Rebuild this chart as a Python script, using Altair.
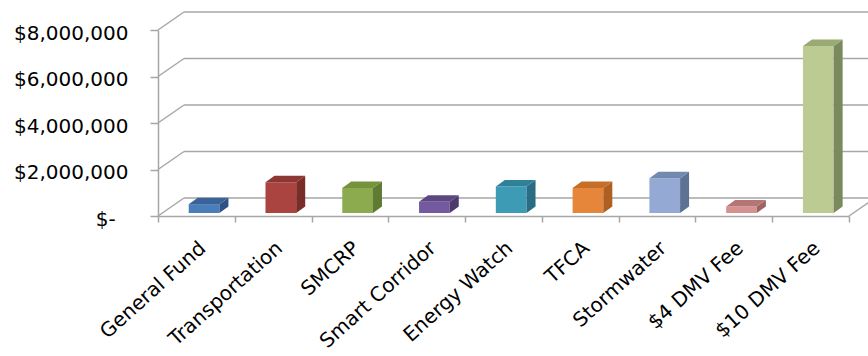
import altair as alt
import pandas as pd

# ---- data ----
categories = ["General Fund", "Transportation", "SMCRP", "Smart Corridor",
              "Energy Watch", "TFCA", "Stormwater", "$4 DMV Fee", "$10 DMV Fee"]
values = [380000, 1320000, 1080000, 480000, 1140000, 1080000, 1500000, 280000, 7180000]
y_ticks = [0, 2000000, 4000000, 6000000, 8000000]

# ---- styles ----
front_colors = ["#4A7EBB", "#AA4441", "#8CAB4E", "#7559A0", "#3D9BB5",
                "#E5863A", "#94AAD4", "#D69291", "#BBCB92"]
top_colors = ["#3A6399", "#8E3633", "#76923C", "#5D4782", "#2F8099",
              "#C66E28", "#7389B0", "#B57574", "#99AA72"]
side_colors = ["#2E5285", "#7A2C29", "#5F7A32", "#4D3B6C", "#296D82",
               "#AE5F22", "#5E7296", "#9C6362", "#7A8A5C"]
GRID = "#A6A6A6"
FONT = "DejaVu Sans"

W, H = 691, 186
Y_MAX = 8000000
N = len(categories)
PXY = Y_MAX / H          # data units per pixel (y)
PXX = N / W              # category units per pixel (x)
DEPTH_DX, DEPTH_DY = 26, 18
BAR_L, BAR_R = 0.40, 0.80
BAR_DX, BAR_DY = 9, 6.5
LIFT = 3

base = pd.DataFrame({"cat": categories, "value": values, "idx": list(range(N))})
grid = pd.DataFrame({"v": y_ticks})

# faces built from the values
front_rows, side_rows, top_rows = [], [], []
for c, v, i in zip(categories, values, range(N)):
    x0, x1 = i + BAR_L, i + BAR_R
    lo, hi = LIFT * PXY, v + LIFT * PXY
    ddx, ddy = BAR_DX * PXX, BAR_DY * PXY
    front_rows.append({"cat": c, "x0": x0, "x1": x1, "lo": lo, "hi": hi})
    side_rows += [{"cat": c, "x": x1, "lo": lo, "hi": hi},
                  {"cat": c, "x": x1 + ddx, "lo": lo + ddy, "hi": hi + ddy}]
    top_rows += [{"cat": c, "x": x0, "lo": hi, "hi": hi},
                 {"cat": c, "x": x0 + ddx, "lo": hi, "hi": hi + ddy},
                 {"cat": c, "x": x1, "lo": hi, "hi": hi + ddy},
                 {"cat": c, "x": x1 + ddx, "lo": hi + ddy, "hi": hi + ddy}]
front_df = pd.DataFrame(front_rows)
side_df = pd.DataFrame(side_rows)
top_df = pd.DataFrame(top_rows)

yscale = alt.Scale(domain=[0, Y_MAX], nice=False, zero=True)
xq = alt.Scale(domain=[0, N], nice=False, zero=False)

y_axis = alt.Axis(
    values=y_ticks,
    labelExpr="datum.value == 0 ? '$-\u00a0\u00a0\u200b' : '$' + format(datum.value, ',')",
    grid=False, domainColor=GRID, domainWidth=1.5, tickColor=GRID, tickWidth=1.5,
    tickSize=8, labelPadding=22, labelFont=FONT, labelFontSize=20,
    labelColor="#000000", labelOffset=3, title=None)

axis_layer = alt.Chart(base).mark_bar(opacity=0).encode(
    x=alt.X("cat:N", sort=categories,
            scale=alt.Scale(paddingInner=0, paddingOuter=0),
            axis=alt.Axis(tickBand="extent", labelAngle=-42, labelAlign="right",
                          labelBaseline="middle", labelPadding=23, labelOffset=6,
                          labelFont=FONT, labelFontSize=20, labelColor="#000000",
                          tickSize=6, tickColor=GRID, tickWidth=1.5,
                          domainColor=GRID, domainWidth=1.5, title=None)),
    y=alt.Y("value:Q", scale=yscale, axis=y_axis),
)

back_grid = alt.Chart(grid).mark_rule(color=GRID, strokeWidth=1.5, yOffset=-DEPTH_DY).encode(
    y=alt.Y("v:Q", scale=yscale, axis=None),
    x=alt.value(DEPTH_DX), x2=alt.value(W + DEPTH_DX),
)
left_wall = alt.Chart(grid).mark_rule(color=GRID, strokeWidth=1.5, y2Offset=-DEPTH_DY).encode(
    y=alt.Y("v:Q", scale=yscale, axis=None), y2="v:Q",
    x=alt.value(0), x2=alt.value(DEPTH_DX),
)
right_floor = alt.Chart(grid).transform_filter("datum.v == 0").mark_rule(
    color=GRID, strokeWidth=1.5, y2Offset=-DEPTH_DY).encode(
    y=alt.Y("v:Q", scale=yscale, axis=None), y2="v:Q",
    x=alt.value(W), x2=alt.value(W + DEPTH_DX),
)

front = alt.Chart(front_df).mark_rect().encode(
    x=alt.X("x0:Q", scale=xq, axis=None), x2="x1",
    y=alt.Y("lo:Q", scale=yscale, axis=None), y2="hi",
    color=alt.Color("cat:N", scale=alt.Scale(domain=categories, range=front_colors), legend=None),
)
side = alt.Chart(side_df).mark_area(interpolate="linear").encode(
    x=alt.X("x:Q", scale=xq, axis=None),
    y=alt.Y("lo:Q", scale=yscale, axis=None), y2="hi",
    detail="cat:N",
    color=alt.Color("cat:N", scale=alt.Scale(domain=categories, range=side_colors), legend=None),
)
top = alt.Chart(top_df).mark_area(interpolate="linear").encode(
    x=alt.X("x:Q", scale=xq, axis=None),
    y=alt.Y("lo:Q", scale=yscale, axis=None), y2="hi",
    detail="cat:N",
    color=alt.Color("cat:N", scale=alt.Scale(domain=categories, range=top_colors), legend=None),
)

chart = alt.layer(back_grid, left_wall, right_floor, axis_layer, front, side, top).resolve_scale(
    x="independent", color="independent"
).resolve_axis(
    x="independent", y="independent"
).properties(
    width=W, height=H,
    padding={"left": 158, "top": 30, "right": 19, "bottom": 140},
    autosize=alt.AutoSizeParams(type="none"),
    background="white",
).configure_view(stroke=None)

chart.save("out.html", embed_options={"renderer": "svg", "actions": False})
